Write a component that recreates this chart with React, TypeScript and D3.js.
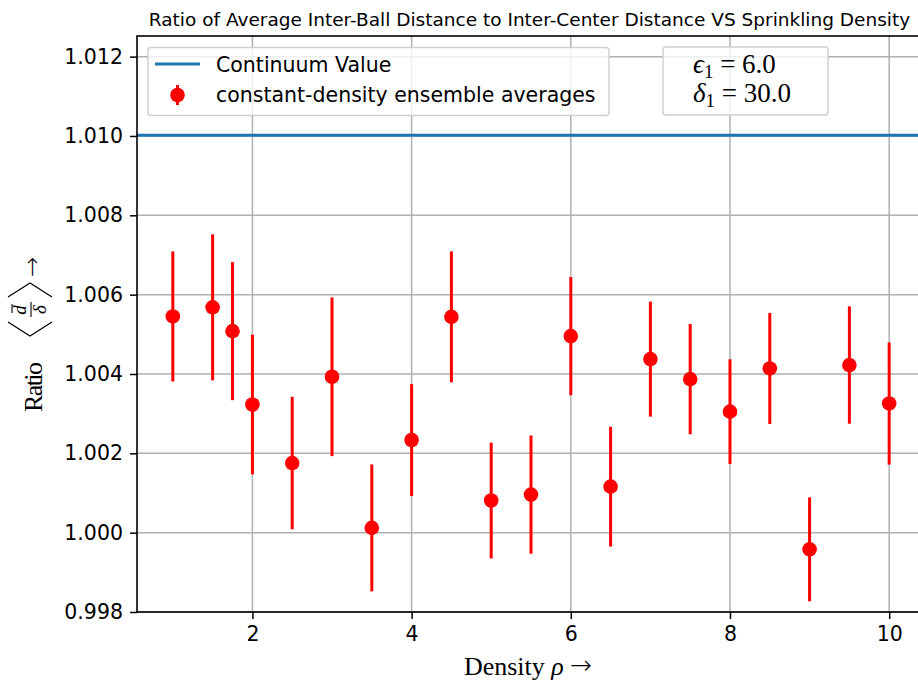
import React, { useEffect, useRef } from 'react'
import { axisBottom, axisLeft, scaleLinear, select } from 'd3'

// sprinkling densities
const densities = [1, 1.5, 1.75, 2, 2.5, 3, 3.5, 4, 4.5, 5, 5.5, 6, 6.5, 7, 7.5, 8, 8.5, 9, 9.5, 10]
// ensemble averages of <d/delta>
const ratios = [
  1.00545, 1.00568, 1.00508, 1.00323, 1.001755, 1.00393, 1.00012, 1.002335, 1.00544, 1.00081,
  1.00096, 1.004955, 1.00116, 1.004375, 1.00387, 1.00305, 1.00414, 0.99958, 1.004225, 1.003257
]
// standard errors
const errors = [
  0.00164, 0.00184, 0.00174, 0.00176, 0.00167, 0.002, 0.0016, 0.00141, 0.00165, 0.00146,
  0.00149, 0.00149, 0.00151, 0.00145, 0.00139, 0.00132, 0.0014, 0.00131, 0.00148, 0.00154
]
const continuumValue = 1.01002
const xTicks = [2, 4, 6, 8, 10]
const yTicks = [0.998, 1.0, 1.002, 1.004, 1.006, 1.008, 1.01, 1.012]
const legendLabels = ['Continuum Value', 'constant-density ensemble averages']

const W = 918
const H = 682
const margin = { top: 36, left: 137 }
const plotRight = 925
const plotBottom = 612

const sans = 'DejaVu Sans, sans-serif'
const serif = 'Liberation Serif, DejaVu Serif, serif'
const tickFont = 20.5

const styleAxis = (g) => {
  g.select('.domain').remove()
  g.selectAll('text').attr('font-family', sans).attr('font-size', tickFont).attr('fill', '#000')
  g.selectAll('line').attr('stroke', '#000').attr('stroke-width', 1.5)
}

const AxisBottom = ({ scale, transform }) => {
  const ref = useRef(null)
  useEffect(() => {
    if (ref.current) {
      const g = select(ref.current)
      g.call(axisBottom(scale).tickValues(xTicks).tickSize(7).tickPadding(7).tickFormat((d) => String(d)))
      styleAxis(g)
    }
  }, [scale])
  return <g ref={ref} transform={transform} />
}

const AxisLeft = ({ scale, transform }) => {
  const ref = useRef(null)
  useEffect(() => {
    if (ref.current) {
      const g = select(ref.current)
      g.call(axisLeft(scale).tickValues(yTicks).tickSize(7).tickPadding(7).tickFormat((d) => (+d).toFixed(3)))
      styleAxis(g)
    }
  }, [scale])
  return <g ref={ref} transform={transform} />
}

const App = () => {
  const x = scaleLinear().domain([0.55, 10.45]).range([margin.left, plotRight])
  const y = scaleLinear().domain([0.998, 1.01252]).range([plotBottom, margin.top])

  return (
    <svg width={W} height={H} style={{ position: 'absolute', left: 0, top: 0, background: '#fff' }}>
      <rect x={0} y={0} width={W} height={H} fill="#fff" />
      <text x={529.5} y={25.5} textAnchor="middle" fontFamily={sans} fontSize={18.5}>
        Ratio of Average Inter-Ball Distance to Inter-Center Distance VS Sprinkling Density
      </text>

      {/* grid */}
      {xTicks.map((t) => (
        <line key={`gx-${t}`} x1={x(t)} x2={x(t)} y1={margin.top} y2={plotBottom} stroke="#b0b0b0" strokeWidth={1.5} />
      ))}
      {yTicks.map((t) => (
        <line key={`gy-${t}`} x1={margin.left} x2={plotRight} y1={y(t)} y2={y(t)} stroke="#b0b0b0" strokeWidth={1.5} />
      ))}

      <line x1={margin.left} x2={plotRight} y1={y(continuumValue)} y2={y(continuumValue)} stroke="#1f77b4" strokeWidth={3} />

      {densities.map((d, i) => (
        <g key={`pt-${d}`}>
          <line x1={x(d)} x2={x(d)} y1={y(ratios[i] - errors[i])} y2={y(ratios[i] + errors[i])} stroke="red" strokeWidth={3} />
          <circle cx={x(d)} cy={y(ratios[i])} r={7.3} fill="red" />
        </g>
      ))}

      {/* spines */}
      <rect x={margin.left} y={margin.top} width={plotRight - margin.left} height={plotBottom - margin.top} fill="none" stroke="#000" strokeWidth={1.6} />

      <AxisBottom scale={x} transform={`translate(0, ${plotBottom})`} />
      <AxisLeft scale={y} transform={`translate(${margin.left}, 0)`} />

      {/* legend */}
      <rect x={148} y={47.5} width={461} height={68} rx={3} fill="#fff" fillOpacity={0.8} stroke="#d0d0d0" strokeWidth={1.5} />
      <line x1={155} x2={200} y1={64} y2={64} stroke="#1f77b4" strokeWidth={3} />
      <line x1={177.5} x2={177.5} y1={85} y2={105} stroke="red" strokeWidth={3} />
      <circle cx={177.5} cy={95} r={7.3} fill="red" />
      <text x={216} y={71.5} fontFamily={sans} fontSize={tickFont}>{legendLabels[0]}</text>
      <text x={216} y={102} fontFamily={sans} fontSize={tickFont}>{legendLabels[1]}</text>

      {/* parameters box */}
      <rect x={663} y={47} width={165} height={68} rx={3} fill="#fff" fillOpacity={0.8} stroke="#d0d0d0" strokeWidth={1.5} />
      <text x={693} y={73} fontFamily={serif} fontSize={27}>
        <tspan fontStyle="italic">ϵ</tspan>
        <tspan fontSize={19} dy={5}>1</tspan>
        <tspan dy={-5}> = 6.0</tspan>
      </text>
      <text x={693} y={102} fontFamily={serif} fontSize={27}>
        <tspan fontStyle="italic">δ</tspan>
        <tspan fontSize={19} dy={5}>1</tspan>
        <tspan dy={-5}> = 30.0</tspan>
      </text>

      {/* x label */}
      <text x={528} y={675} textAnchor="middle" fontFamily={serif} fontSize={26}>
        Density <tspan fontStyle="italic">ρ</tspan> <tspan fontFamily={sans} fontWeight={200} dy={-1}>→</tspan>
      </text>

      {/* y label, rotated; u runs upward, v = 0 is the text baseline */}
      <g transform="translate(42, 334) rotate(-90)">
        <text x={-78} y={0} fontFamily={serif} fontSize={26} textLength={50} lengthAdjust="spacing">Ratio</text>
        <path d="M 12 -34 L -2 -12 L 12 10" fill="none" stroke="#000" strokeWidth={1.2} />
        <text x={24} y={-16} textAnchor="middle" fontFamily={serif} fontSize={19} fontStyle="italic">d</text>
        <line x1={21} x2={30} y1={-30} y2={-30} stroke="#000" strokeWidth={1.1} />
        <line x1={17} x2={32} y1={-11} y2={-11} stroke="#000" strokeWidth={1.1} />
        <text x={24.5} y={4} textAnchor="middle" fontFamily={serif} fontSize={19} fontStyle="italic">δ</text>
        <path d="M 37 -34 L 51 -12 L 37 10" fill="none" stroke="#000" strokeWidth={1.2} />
        <text x={57} y={-2} fontFamily={sans} fontSize={24} fontWeight={200}>→</text>
      </g>
    </svg>
  )
}

export default App
